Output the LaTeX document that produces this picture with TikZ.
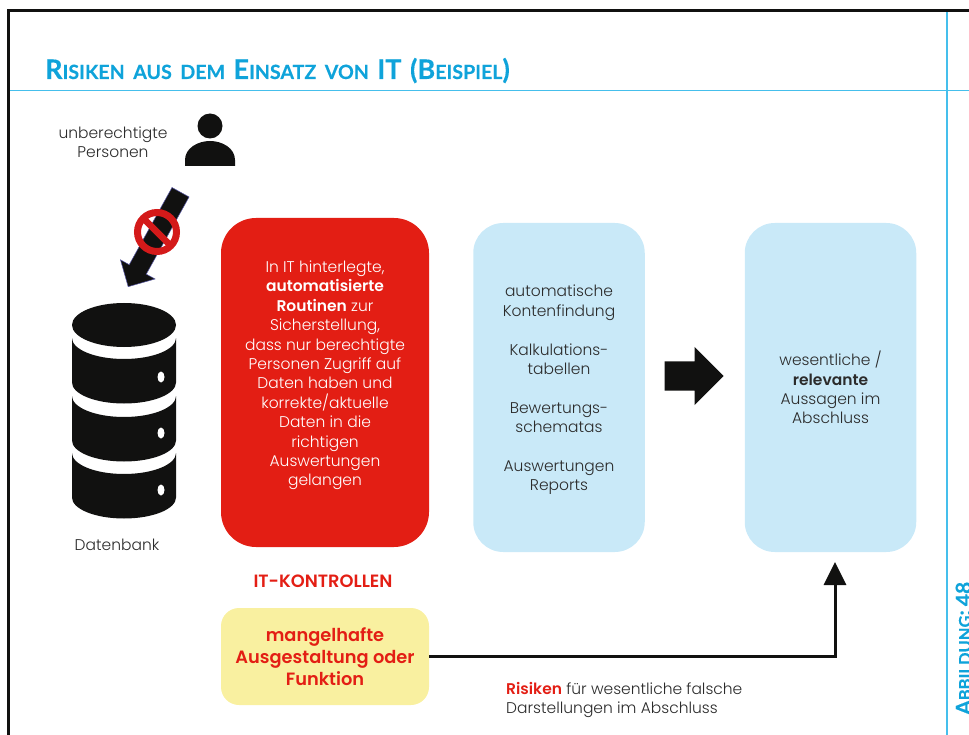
\documentclass[tikz,border=0pt]{standalone}
\usepackage{fontspec}
\setmainfont{Poppins Light}[BoldFont={Poppins SemiBold}]
\newfontfamily\titlefont{Lato}[UprightFont=* Bold, UprightFeatures={FakeBold=0.25}]
\usetikzlibrary{arrows.meta,shapes.arrows}
\definecolor{titleblue}{HTML}{0FA3DA}
\definecolor{lineblue}{HTML}{45BFEC}
\definecolor{boxblue}{HTML}{C9E9F8}
\definecolor{boxred}{HTML}{E31E14}
\definecolor{boxyellow}{HTML}{F9F0A0}
\definecolor{iconblack}{HTML}{111110}
\definecolor{bodygray}{HTML}{2B2B2B}
\definecolor{signred}{HTML}{D41A1A}
\newcommand{\initcap}[1]{{\fontsize{27}{27}\selectfont #1}}
\newcommand{\figcap}[1]{{\fontsize{21}{21}\selectfont #1}}
\begin{document}
\begin{tikzpicture}[x=1pt, y=-1pt,
                    main box/.style={rectangle, rounded corners=30pt, fill=boxblue, text=bodygray, align=center,
                                     inner sep=0pt, minimum width=171.5pt, minimum height=329pt,
                                     font=\fontsize{15.5}{19.4}\selectfont},
                    plain label/.style={align=center, text=bodygray, inner sep=0pt,
                                        font=\fontsize{15.5}{19.4}\selectfont},
                    red label/.style={align=center, text=boxred, inner sep=0pt,
                                      font=\fontsize{17.8}{22}\selectfont\bfseries},
                    block arrow/.style={single arrow, fill=iconblack, inner sep=0pt, text depth=0pt, anchor=tip}]

		  \useasboundingbox (0,0) rectangle (969,735);

		  % frame
		  \draw[line width=3pt, iconblack] (8.5,735) -- (8.5,11) -- (969,11);
		  \draw[line width=1.2pt, lineblue] (10,90.5) -- (969,90.5);
		  \draw[line width=1.2pt, lineblue] (947,12.5) -- (947,735);

		  \node[anchor=base west, inner sep=0pt, text=titleblue, font=\titlefont\fontsize{19.6}{21}\selectfont] (title) at (45,79)
		    {\spaceskip 8.5pt\relax\initcap{R}ISIKEN AUS DEM \initcap{E}INSATZ VON \initcap{IT} \initcap{(B}EISPIEL\initcap{)}};
		  \node[anchor=base west, rotate=90, inner sep=0pt, text=titleblue, font=\titlefont\fontsize{16.5}{16.5}\selectfont] (figno) at (971,715)
		    {\figcap{A}BBILDUNG\figcap{:} \figcap{48}};

		  % person
		  \node[circle, fill=iconblack, minimum size=25pt, inner sep=0pt] (head) at (210,126) {};
		  \fill[iconblack] (185,166) -- (185,160) .. controls (185,148) and (198,141) .. (210,141)
		    .. controls (222,141) and (235,148) .. (235,160) -- (235,166) -- cycle;
		  \node[plain label] (person) at (113,142.5) {unberechtigte\\Personen};

		  % blocked access
		  \node[block arrow, draw=blue!30!gray, line width=0.5pt, rotate=241, minimum height=108pt, minimum width=39pt,
		        single arrow head extend=10pt, text height=19pt] (access) at (128,287) {};
		  \draw[line width=7pt, signred] (157,232) circle (19.5);
		  \draw[line width=6.5pt, signred] (143.5,218.5) -- (170.5,245.5);

		  % database
		  \fill[iconblack] (124,325) ellipse [x radius=52, y radius=22];
		  \foreach \y/\dot in {338/377, 396/433, 453/490}{
		    \fill[iconblack] (72,\y) arc [start angle=180, end angle=0, x radius=52, y radius=21]
		      -- (176,\y+44.5) arc [start angle=0, end angle=180, x radius=52, y radius=21] -- cycle;
		    \fill[white] (161,\dot) ellipse [x radius=3.5, y radius=5.5];
		  }
		  \node[plain label] (db) at (117,545) {Datenbank};

		  % boxes
		  \node[main box, fill=boxred, rounded corners=35pt, minimum width=208pt] (controls) at (325,382.5) {};
		  \node[plain label, text=white] (controlstext) at (325,375.5)
		    {In IT hinterlegte,\\\textbf{automatisierte}\\\textbf{Routinen} zur\\Sicherstellung,\\dass nur berechtigte\\Personen Zugriff auf\\Daten haben und\\korrekte/aktuelle\\Daten in die\\richtigen\\Auswertungen\\gelangen};
		  \node[main box] (processes) at (559,387.5) {};
		  \node[plain label] (processestext) at (559,390)
		    {automatische\\Kontenfindung\\[19.4pt]Kalkulations-\\tabellen\\[19.4pt]Bewertungs-\\schematas\\[19.4pt]Auswertungen\\Reports};
		  \node[main box] (statements) at (830.5,387.5)
		    {wesentliche /\\\textbf{relevante}\\Aussagen im\\Abschluss};
		  \node[block arrow, minimum height=59pt, minimum width=58pt, single arrow head extend=14.5pt, text height=29pt] (flow) at (724,376) {};

		  \node[red label] (itk) at (323,581.5) {IT-KONTROLLEN};
		  \node[main box, fill=boxyellow, rounded corners=18pt, minimum width=208pt, minimum height=97pt,
		        text=boxred, font=\fontsize{17.8}{22}\selectfont\bfseries] (defect) at (325,656.5)
		    {mangelhafte\\Ausgestaltung oder\\Funktion};

		  % risk path
		  \coordinate (riskend) at (835,562);
		  \draw[line width=3pt, iconblack, -{Triangle[width=22pt,length=23pt]}] (defect.east) -| (riskend);
		  \node[plain label, align=left, anchor=west] (risk) at (506,700)
		    {\textcolor{boxred}{\textbf{Risiken}} für wesentliche falsche\\Darstellungen im Abschluss};
	\end{tikzpicture}
\end{document}
